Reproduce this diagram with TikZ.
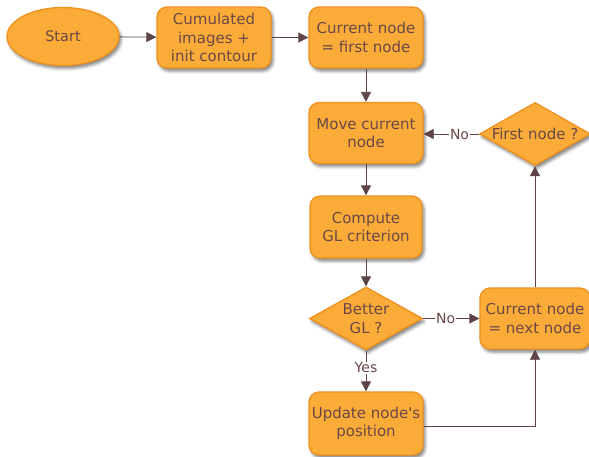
\documentclass[tikz,border=0pt]{standalone}
\usepackage{fontspec}
\setmainfont{DejaVu Sans}
\usetikzlibrary{shapes.geometric,arrows.meta,shadows.blur}
\definecolor{boxfill}{HTML}{FBAC38}
\definecolor{boxedge}{HTML}{F0911E}
\definecolor{ink}{HTML}{6A4848}
\definecolor{wire}{HTML}{5E4446}
\tikzset{
  softshadow/.style={blur shadow={shadow xshift=2pt,shadow yshift=-3pt,shadow blur radius=3pt,shadow opacity=50}},
  shapebase/.style={draw=boxedge,line width=1.3pt,fill=boxfill,text=ink,softshadow,
    font=\fontsize{15}{18.5}\selectfont,align=center,inner sep=0pt},
  stepbox/.style={shapebase,rectangle,rounded corners=10pt,minimum width=114pt,minimum height=61pt},
  startoval/.style={shapebase,ellipse,minimum width=112pt,minimum height=58pt,font=\fontsize{14.5}{17}\selectfont},
  decision/.style={shapebase,diamond,minimum width=113pt,minimum height=63pt},
  dtext/.style={text=ink,font=\fontsize{15}{18.5}\selectfont,align=center,inner sep=0pt},
  flow/.style={draw=wire,line width=0.8pt,-{Triangle[length=10pt,width=10pt]}},
  tag/.style={fill=white,text=ink,font=\fontsize{14}{16}\selectfont,inner sep=1pt}
}
\begin{document}
\begin{tikzpicture}[x=1pt,y=-1pt]
\useasboundingbox (0,0) rectangle (589,456);

% top row
\node[startoval] (start) at (63,36.5) {Start};
\node[stepbox] (cum) at (214,37.5) {Cumulated\\images +\\init contour};
\node[stepbox] (first) at (366,37.5) {Current node\\= first node};

% main column
\node[stepbox] (move) at (366,133) {Move current\\node};
\node[stepbox,minimum width=112pt,minimum height=62pt] (gl) at (366,227) {Compute\\GL criterion};
\node[decision] (better) at (366,318.5) {};
\node[dtext] (bettertxt) at (better) {Better\\GL ?};
\node[stepbox,minimum height=63pt] (update) at (366,423.5) {Update node\textquotesingle s\\position};

% right column
\node[decision,minimum width=111pt] (isfirst) at (535,134) {};
\node[dtext] (isfirsttxt) at (isfirst) {First node ?};
\node[stepbox,minimum width=110pt] (next) at (535,318.5) {Current node\\= next node};

% connectors
\draw[flow] (start) -- (cum);
\draw[flow] (cum) -- (first);
\draw[flow] (first) -- (move);
\draw[flow] (move) -- (gl);
\draw[flow] (gl) -- (better);
\draw[flow] (better.south) -- node[tag,pos=0.42] (yes) {Yes} (update.north);
\draw[flow] (better.east) -- node[tag,pos=0.4] (no2) {No} (next.west);
\draw[flow] (update.east |- 0,426) coordinate (upd) -| (next.south);
\draw[flow] (next.north) -- (isfirst.south);
\draw[flow] (isfirst.west) -- node[tag,pos=0.35] (no1) {No} (move.east |- isfirst.west);
\end{tikzpicture}
\end{document}
